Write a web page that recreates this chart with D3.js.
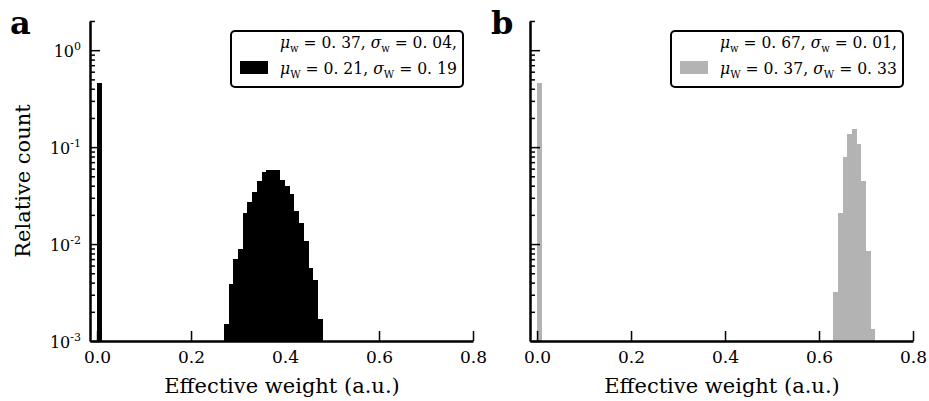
<!DOCTYPE html>
<html>
<head>
<meta charset="utf-8">
<script src="https://cdn.jsdelivr.net/npm/d3@7"></script>
<style>
  body { margin: 0; background: #fff; }
  svg text { font-family: "DejaVu Serif", serif; fill: #000; }
</style>
</head>
<body>
<div id="chart"></div>
<script>
// bin left edges and relative counts, bin width 0.01
const binWidth = 0.01;
const zeroBin = [0.0];
const zeroCount = [0.456];

const binsA = [0.27, 0.28, 0.29, 0.30, 0.31, 0.32, 0.33, 0.34, 0.35, 0.36, 0.37,
               0.38, 0.39, 0.40, 0.41, 0.42, 0.43, 0.44, 0.45, 0.46, 0.47];
const countsA = [0.00148, 0.00389, 0.0070, 0.00895, 0.0210, 0.0272, 0.0342, 0.0442, 0.0560, 0.0587, 0.0587,
                 0.0587, 0.0462, 0.0394, 0.0330, 0.0218, 0.0165, 0.0108, 0.00565, 0.00421, 0.00167];

const binsB = [0.63, 0.64, 0.65, 0.66, 0.67, 0.68, 0.69, 0.70, 0.71];
const countsB = [0.00319, 0.0210, 0.0787, 0.138, 0.152, 0.107, 0.0452, 0.00853, 0.00133];

const xTicks = [0.0, 0.2, 0.4, 0.6, 0.8];
const yMajor = [0.001, 0.01, 0.1, 1];
const yExp = ["-3", "-2", "-1", "0"];

const legendA = [["0.37", "0.04"], ["0.21", "0.19"]];
const legendB = [["0.67", "0.01"], ["0.37", "0.33"]];

const width = 929, height = 401;
const svg = d3.select("#chart").append("svg").attr("width", width).attr("height", height);

const yMinor = [];
[0.001, 0.01, 0.1, 1].forEach(p => { for (let k = 2; k <= 9; k++) { if (p * k <= 2.0001) yMinor.push(p * k); } });

function panel(ox, letter, letterX, bins, counts, color, leg, showY) {
  const x = d3.scaleLinear().domain([-0.015, 0.8]).range([ox, ox + 383]);
  const y = d3.scaleLog().domain([0.001, 2]).range([341, 21]);
  const g = svg.append("g");

  const allBins = zeroBin.concat(bins);
  const allCounts = zeroCount.concat(counts);
  g.selectAll("rect.bar").data(allBins).enter().append("rect")
    .attr("class", "bar")
    .attr("x", d => x(d))
    .attr("width", d => x(d + binWidth) - x(d))
    .attr("y", (d, i) => y(allCounts[i]))
    .attr("height", (d, i) => y(0.001) - y(allCounts[i]))
    .attr("fill", color)
    .attr("shape-rendering", "crispEdges");

  // x axis, ticks pointing inward
  const xa = g.append("g").attr("transform", "translate(0,341)")
    .call(d3.axisBottom(x).tickValues(xTicks).tickSize(-10).tickSizeOuter(0).tickPadding(8).tickFormat(d3.format(".1f")));
  xa.selectAll(".tick text").attr("font-size", 17).attr("dy", "0.85em");
  xa.selectAll(".tick line").attr("stroke-width", 1.5);
  xa.select(".domain").attr("stroke-width", 2.5);

  // y minor ticks
  g.append("g").attr("transform", `translate(${ox},0)`)
    .call(d3.axisLeft(y).tickValues(yMinor).tickSize(-5).tickFormat(""))
    .call(s => s.select(".domain").remove())
    .selectAll(".tick line").attr("stroke-width", 1.5);

  const ya = g.append("g").attr("transform", `translate(${ox},0)`)
    .call(d3.axisLeft(y).tickValues(yMajor).tickSize(-10).tickSizeOuter(0).tickPadding(9).tickFormat(""));
  ya.selectAll(".tick line").attr("stroke-width", 1.5);
  ya.select(".domain").attr("stroke-width", 2.5);
  if (showY) {
    ya.selectAll(".tick text").each(function(d, i) {
      const t = d3.select(this).attr("font-size", 16).attr("dy", "0.4em");
      t.append("tspan").text("10");
      t.append("tspan").attr("font-size", 11).attr("dy", "-0.65em").text(yExp[i]);
    });
  }

  // axis labels
  g.append("text").attr("x", ox + 192).attr("y", 393).attr("text-anchor", "middle")
    .attr("font-size", 21).text("Effective weight (a.u.)");
  if (showY) {
    g.append("text").attr("transform", `translate(30,${(21 + 341) / 2}) rotate(-90)`)
      .attr("text-anchor", "middle").attr("font-size", 21).text("Relative count");
  }
  g.append("text").attr("x", letterX).attr("y", 34).attr("font-size", 32).attr("font-weight", "bold").text(letter);

  // legend
  const lx = ox + 141, ly = 31;
  g.append("rect").attr("x", lx).attr("y", ly).attr("width", 232).attr("height", 56)
    .attr("rx", 4).attr("fill", "#fff").attr("stroke", "#000").attr("stroke-width", 2);
  g.append("rect").attr("x", lx + 9).attr("y", ly + 30).attr("width", 28).attr("height", 13).attr("fill", color);
  const subs = ["w", "W"];
  leg.forEach((vals, i) => {
    const row = g.append("g");
    const t = row.append("text").attr("font-size", 17);
    t.append("tspan").attr("font-style", "italic").text("μ");
    t.append("tspan").attr("font-size", 11).attr("dy", 4).text(subs[i]);
    t.append("tspan").attr("dy", -4).text(" = " + vals[0].replace(".", ". ") + ", ");
    t.append("tspan").attr("font-style", "italic").text("σ");
    t.append("tspan").attr("font-size", 11).attr("dy", 4).text(subs[i]);
    t.append("tspan").attr("dy", -4).text(" = " + vals[1].replace(".", ". ") + (i === 0 ? "," : ""));
    const sx = 177 / t.node().getComputedTextLength();
    row.attr("transform", `translate(${lx + 49},${ly + 17 + i * 26}) scale(${sx},1)`);
  });
}

panel(90, "a", 10, binsA, countsA, "#000", legendA, true);
panel(530, "b", 491, binsB, countsB, "#b3b3b3", legendB, false);
</script>
</body>
</html>
